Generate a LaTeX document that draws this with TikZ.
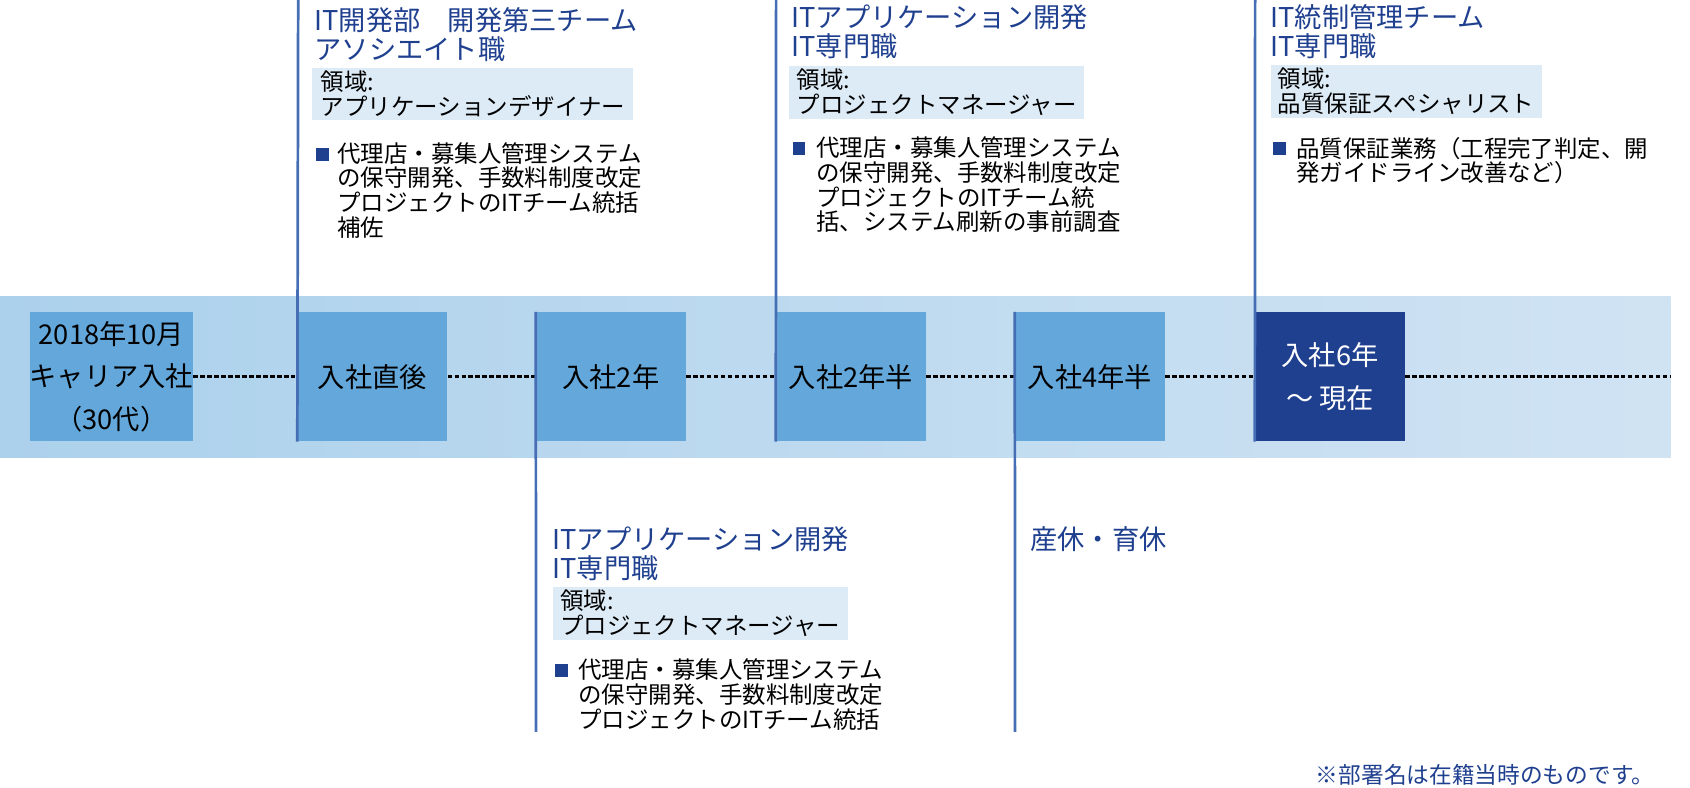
\documentclass[tikz,border=0pt]{standalone}
\usepackage{fontspec}
\setmainfont{Noto Sans CJK JP}
\usetikzlibrary{positioning}
\definecolor{band}{RGB}{172,209,236}
\definecolor{bandr}{RGB}{208,227,243}
\definecolor{boxblue}{RGB}{100,168,219}
\definecolor{navy}{RGB}{31,63,143}
\definecolor{areabg}{RGB}{221,235,246}
\definecolor{stem}{RGB}{70,110,180}
\tikzset{
  phase/.style={fill=boxblue, minimum width=3.475cm, minimum height=3cm, inner sep=0pt,
    font=\fontsize{18}{28}\selectfont, align=center},
  now/.style={phase, fill=navy, text=white},
  head/.style={anchor=north west, inner sep=0pt, text=navy, align=left,
    font=\fontsize{18}{19}\selectfont},
  area/.style={anchor=north west, fill=areabg, inner sep=2pt, align=left,
    font=\fontsize{15.5}{16.5}\selectfont},
  bullet/.style={anchor=north west, fill=navy, minimum size=0.3cm, inner sep=0pt},
  body/.style={anchor=north west, inner sep=0pt, align=left,
    font=\fontsize{15.5}{16.3}\selectfont},
  stemline/.style={stem, line width=1.8pt},
  link/.style={black, line width=2pt, dash pattern=on 3pt off 1.6pt}
}
\begin{document}
\begin{tikzpicture}[x=0.025cm, y=-0.025cm]
  \useasboundingbox (0,0) rectangle (1570,732);
  \shade[left color=band, right color=bandr] (0,275) rectangle (1552,425);%band
  % phases
  \node[phase] (s0) at (103.5,350) {2018年10月\\キャリア入社\\（30代）};
  \node[phase] (s1) at (346,350) {入社直後};
  \node[phase] (s2) at (567.5,350) {入社2年};
  \node[phase] (s3) at (790.5,350) {入社2年半};
  \node[phase] (s4) at (1012.5,350) {入社4年半};
  \node[now] (s5) at (1235.5,350) {入社6年\\～ 現在};
  \coordinate (end) at (1552,350);
  \draw[link] (s0) -- (s1);
  \draw[link] (s1) -- (s2);
  \draw[link] (s2) -- (s3);
  \draw[link] (s3) -- (s4);
  \draw[link] (s4) -- (s5);
  \draw[link] (s5) -- (end);
  % stems
  \coordinate (t1) at (277,0);
  \coordinate (t3) at (721,0);
  \coordinate (t5) at (1166,0);
  \coordinate (b2) at (498,680);
  \coordinate (b4) at (943,680);
  \draw[stemline] (s1.south west) -- (t1);
  \draw[stemline] (s3.south west) -- (t3);
  \draw[stemline] (s5.south west) -- (t5);
  \draw[stemline] (s2.north west) -- (b2);
  \draw[stemline] (s4.north west) -- (b4);
  % block 1
  \node[head] (h1) at (292,7) {IT開発部　開発第三チーム\\アソシエイト職};
  \node[area, minimum width=7.45cm] (a1) at (290,63) {領域:\\アプリケーションデザイナー};
  \node[bullet] (q1) at (293,137) {};
  \node[body] (d1) at (313,132) {代理店・募集人管理システム\\の保守開発、手数料制度改定\\プロジェクトのITチーム統括\\補佐};
  % block 3
  \node[head] (h3) at (735,4) {ITアプリケーション開発\\IT専門職};
  \node[area, minimum width=6.85cm] (a3) at (733,61) {領域:\\プロジェクトマネージャー};
  \node[bullet] (q3) at (736,132) {};
  \node[body] (d3) at (758,127) {代理店・募集人管理システム\\の保守開発、手数料制度改定\\プロジェクトのITチーム統\\括、システム刷新の事前調査};
  % block 5
  \node[head] (h5) at (1180,4) {IT統制管理チーム\\IT専門職};
  \node[area, minimum width=6.3cm] (a5) at (1180,60) {領域:\\品質保証スペシャリスト};
  \node[bullet] (q5) at (1182,132) {};
  \node[body] (d5) at (1204,127) {品質保証業務（工程完了判定、開\\発ガイドライン改善など）};
  % block 2
  \node[head] (h2) at (513,489) {ITアプリケーション開発\\IT専門職};
  \node[area, minimum width=6.85cm] (a2) at (513,545) {領域:\\プロジェクトマネージャー};
  \node[bullet] (q2) at (515,617) {};
  \node[body] (d2) at (537,612) {代理店・募集人管理システム\\の保守開発、手数料制度改定\\プロジェクトのITチーム統括};
  % block 4
  \node[head] (h4) at (957,489) {産休・育休};
  \node[anchor=north east, inner sep=0pt, text=navy, font=\fontsize{15}{16}\selectfont]
    (note) at (1537,710) {※部署名は在籍当時のものです。};
\end{tikzpicture}
\end{document}
